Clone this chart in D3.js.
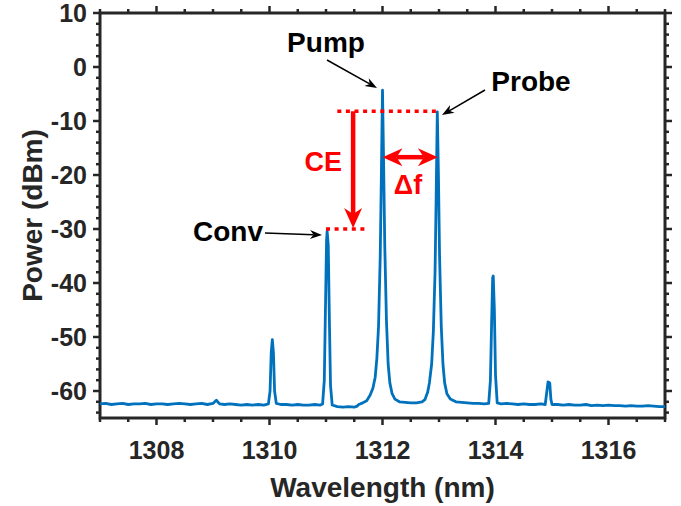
<!DOCTYPE html>
<html lang="en">
<head>
<meta charset="utf-8">
<title>Spectrum</title>
<script src="https://cdn.jsdelivr.net/npm/d3@7/dist/d3.min.js"></script>
<style>
body { margin:0; background:#fff; }
text { font-family:"Liberation Sans", Arial, Helvetica, sans-serif; font-weight:bold; }
</style>
</head>
<body>
<div id="main"></div>
<script>
// spectrum: wavelength (nm), power (dBm)
var wavelength = [
  1307.0,1307.1,1307.2,1307.3,1307.4,1307.5,1307.6,1307.7,1307.8,1307.9,
  1308.0,1308.1,1308.2,1308.3,1308.4,1308.5,1308.6,1308.7,1308.8,1308.9,
  1309.0,1309.03,1309.06,1309.09,1309.12,1309.2,1309.3,1309.4,1309.5,1309.6,
  1309.7,1309.8,1309.9,1309.98,1310.01,1310.03,1310.05,1310.07,1310.09,1310.12,
  1310.2,1310.3,1310.4,1310.5,1310.6,1310.7,1310.8,1310.9,1310.94,1310.97,
  1310.99,1311.01,1311.02,1311.04,1311.06,1311.08,1311.11,1311.2,1311.3,1311.4,
  1311.5,1311.55,1311.58,1311.65,1311.72,1311.78,1311.83,1311.87,1311.9,1311.93,
  1311.96,1311.98,1312.0,1312.02,1312.04,1312.07,1312.1,1312.13,1312.17,1312.22,
  1312.3,1312.4,1312.5,1312.6,1312.7,1312.75,1312.8,1312.83,1312.87,1312.9,
  1312.93,1312.95,1312.97,1312.99,1313.01,1313.04,1313.07,1313.1,1313.14,1313.2,
  1313.3,1313.4,1313.5,1313.6,1313.7,1313.8,1313.88,1313.91,1313.93,1313.95,
  1313.96,1313.98,1314.0,1314.03,1314.1,1314.2,1314.3,1314.4,1314.5,1314.6,
  1314.7,1314.8,1314.88,1314.91,1314.93,1314.96,1314.98,1315.0,1315.1,1315.2,
  1315.3,1315.4,1315.5,1315.6,1315.7,1315.8,1315.9,1316.0,1316.1,1316.2,
  1316.3,1316.4,1316.5,1316.6,1316.7,1316.8,1316.9,1317.0
];
var power = [
  -62.4,-62.3,-62.5,-62.4,-62.3,-62.5,-62.4,-62.4,-62.3,-62.5,
  -62.4,-62.4,-62.5,-62.4,-62.3,-62.4,-62.5,-62.4,-62.3,-62.5,
  -62.3,-62.0,-61.7,-62.1,-62.4,-62.5,-62.4,-62.5,-62.6,-62.5,
  -62.6,-62.5,-62.6,-62.4,-60.0,-53.0,-50.5,-53.0,-60.0,-62.3,
  -62.5,-62.5,-62.6,-62.5,-62.6,-62.6,-62.5,-62.6,-62.4,-58.0,
  -45.0,-32.0,-30.4,-33.0,-47.0,-59.0,-62.6,-62.9,-63.0,-62.9,
  -63.0,-62.8,-62.5,-62.2,-61.8,-60.8,-59.5,-57.5,-54.0,-48.0,
  -35.0,-20.0,-4.3,-18.0,-33.0,-47.0,-55.0,-58.5,-60.5,-61.5,
  -62.0,-62.1,-62.2,-62.2,-62.0,-61.6,-60.2,-58.5,-55.0,-49.0,
  -38.0,-24.0,-8.3,-20.0,-35.0,-48.0,-55.0,-58.5,-60.5,-61.5,
  -62.0,-62.1,-62.2,-62.3,-62.3,-62.4,-62.3,-58.0,-48.0,-39.0,
  -38.7,-45.0,-57.0,-62.2,-62.4,-62.3,-62.4,-62.5,-62.4,-62.5,
  -62.5,-62.4,-62.5,-60.0,-58.3,-58.5,-61.5,-62.5,-62.5,-62.6,
  -62.5,-62.6,-62.6,-62.5,-62.7,-62.6,-62.7,-62.6,-62.7,-62.7,
  -62.8,-62.7,-62.8,-62.8,-62.7,-62.8,-62.9,-62.9
];
var xTicks = [1308,1310,1312,1314,1316];
var yTicks = [10,0,-10,-20,-30,-40,-50,-60];

var W = 681, H = 506;
var margin = {left:100, right:16, top:13, bottom:88};
var pw = W - margin.left - margin.right, ph = H - margin.top - margin.bottom;

var svg = d3.select("#main").append("svg").attr("width",W).attr("height",H);
var g = svg.append("g").attr("transform","translate("+margin.left+","+margin.top+")");

var x = d3.scaleLinear().domain([1307,1317]).range([0,pw]);
var y = d3.scaleLinear().domain([-65,10]).range([ph,0]);

var axisColor = "#262626";

// minor ticks
var xMinor = d3.range(1307,1317.01,0.5);
var yMinor = d3.range(-64,10.01,2);

function drawTicks(){
  // bottom & top
  xMinor.forEach(function(v){
    var major = xTicks.indexOf(v) >= 0;
    var L = major ? 7 : 4;
    g.append("line").attr("x1",x(v)).attr("x2",x(v)).attr("y1",ph).attr("y2",ph+L).attr("stroke",axisColor).attr("stroke-width",2.5);
    g.append("line").attr("x1",x(v)).attr("x2",x(v)).attr("y1",0).attr("y2",-L).attr("stroke",axisColor).attr("stroke-width",2.5);
  });
  yMinor.forEach(function(v){
    var major = yTicks.indexOf(v) >= 0;
    var L = major ? 7 : 4;
    g.append("line").attr("y1",y(v)).attr("y2",y(v)).attr("x1",0).attr("x2",-L).attr("stroke",axisColor).attr("stroke-width",2.5);
    g.append("line").attr("y1",y(v)).attr("y2",y(v)).attr("x1",pw).attr("x2",pw+L).attr("stroke",axisColor).attr("stroke-width",2.5);
  });
}
drawTicks();

// tick labels
g.selectAll("text.xt").data(xTicks).enter().append("text")
  .attr("class","xt").attr("x",function(d){return x(d);}).attr("y",ph+41)
  .attr("text-anchor","middle").attr("fill",axisColor).style("font-size","25px")
  .text(function(d){return d;});
g.selectAll("text.yt").data(yTicks).enter().append("text")
  .attr("class","yt").attr("x",-13).attr("y",function(d){return y(d);}).attr("dy","0.36em")
  .attr("text-anchor","end").attr("fill",axisColor).style("font-size","25px")
  .text(function(d){return d;});

// box
g.append("rect").attr("width",pw).attr("height",ph).attr("fill","none").attr("stroke",axisColor).attr("stroke-width",3);

// spectrum
var pts = wavelength.map(function(w,i){return [w,power[i]];});
var line = d3.line().x(function(d){return x(d[0]);}).y(function(d){return y(d[1]);});
g.append("path").datum(pts).attr("d",line).attr("fill","none")
  .attr("stroke","#0072BD").attr("stroke-width",2.8).attr("stroke-linejoin","round");

// axis titles
svg.append("text").attr("x",margin.left+pw/2).attr("y",497).attr("text-anchor","middle")
  .attr("fill",axisColor).style("font-size","28px").text("Wavelength (nm)");
svg.append("text").attr("transform","translate(42,"+(margin.top+ph/2)+") rotate(-90)")
  .attr("text-anchor","middle").attr("fill",axisColor).style("font-size","28px").text("Power (dBm)");

// arrowhead polygon: tip (tx,ty), direction angle, length, half width
function head(tx,ty,ang,len,hw,back,color){
  var c = Math.cos(ang), s = Math.sin(ang);
  function p(a,b){ return [tx - a*c - b*(-s), ty - a*s - b*c]; }
  var pts = [[tx,ty], p(len,hw), p(len*back,0), p(len,-hw)];
  g.append("path").attr("d","M"+pts.map(function(q){return q.join(",");}).join("L")+"Z").attr("fill",color);
}
function arrow(x1,y1,x2,y2,sw,len,hw,color,both){
  var ang = Math.atan2(y2-y1,x2-x1);
  var off = len*0.7;
  var sx = both ? x1 + Math.cos(ang)*off : x1, sy = both ? y1 + Math.sin(ang)*off : y1;
  g.append("line").attr("x1",sx).attr("y1",sy)
    .attr("x2",x2 - Math.cos(ang)*off).attr("y2",y2 - Math.sin(ang)*off)
    .attr("stroke",color).attr("stroke-width",sw);
  head(x2,y2,ang,len,hw,0.7,color);
  if(both) head(x1,y1,ang+Math.PI,len,hw,0.7,color);
}

// red annotations (data units)
var red = "#ff0000";
var probeLevel = -8.2, convLevel = -30;
g.append("line").attr("x1",x(1311.2)).attr("x2",x(1312.98)).attr("y1",y(probeLevel)).attr("y2",y(probeLevel))
  .attr("stroke",red).attr("stroke-width",3.5).attr("stroke-dasharray","4,4.6");
g.append("line").attr("x1",x(1311.0)).attr("x2",x(1311.7)).attr("y1",y(convLevel)).attr("y2",y(convLevel))
  .attr("stroke",red).attr("stroke-width",3.5).attr("stroke-dasharray","4,4.6");
arrow(x(1311.48),y(probeLevel),x(1311.48),y(convLevel)-1,4.5,20,9,red,false);
arrow(x(1312.0),y(-16.7),x(1312.98),y(-16.7),4.5,20,9,red,true);
g.append("text").attr("x",x(1310.95)).attr("y",y(-19.3)).attr("text-anchor","middle")
  .attr("fill",red).style("font-size","27px").text("CE");
g.append("text").attr("x",x(1312.45)).attr("y",y(-23.6)).attr("text-anchor","middle")
  .attr("fill",red).style("font-size","27px").text("\u0394f");

// black labels
arrow(327-100,60-13,377-100,88-13,1.5,12,4.5,"#000",false);
arrow(485-100,90-13,442-100,115-13,1.5,12,4.5,"#000",false);
arrow(265-100,233-13,322-100,235-13,1.5,12,4.5,"#000",false);
svg.append("text").attr("x",326).attr("y",52).attr("text-anchor","middle").style("font-size","28px").text("Pump");
svg.append("text").attr("x",531).attr("y",91).attr("text-anchor","middle").style("font-size","28px").text("Probe");
svg.append("text").attr("x",228).attr("y",241).attr("text-anchor","middle").style("font-size","28px").text("Conv");
</script>
</body>
</html>
